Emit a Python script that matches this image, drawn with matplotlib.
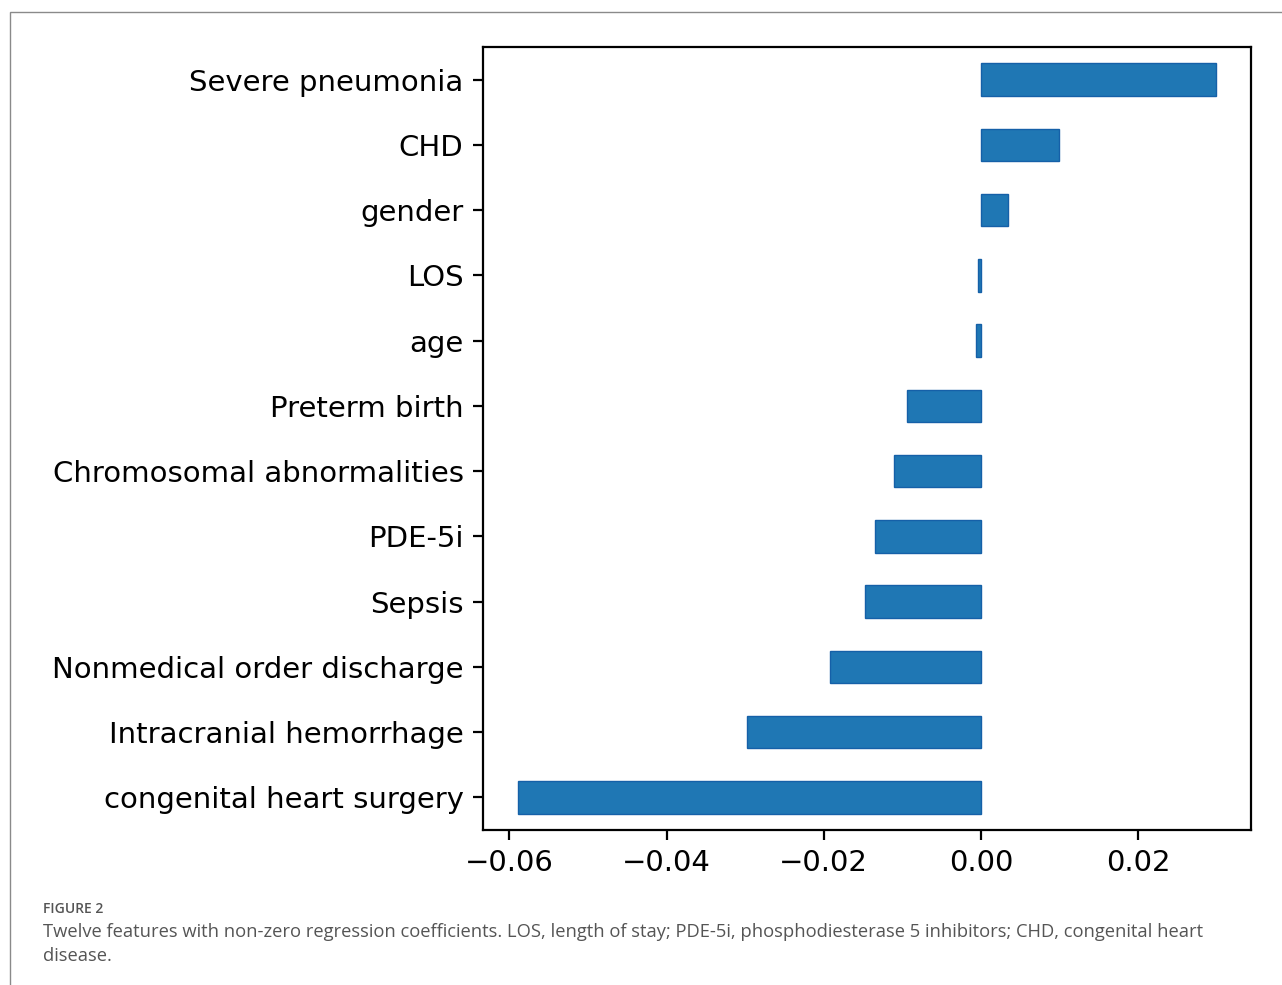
import matplotlib
matplotlib.use("Agg")
import matplotlib.pyplot as plt
from matplotlib.patches import Rectangle

# features listed bottom -> top, as pandas barh draws them
FEATURES = ["congenital heart surgery", "Intracranial hemorrhage",
            "Nonmedical order discharge", "Sepsis", "PDE-5i",
            "Chromosomal abnormalities", "Preterm birth", "age", "LOS",
            "gender", "CHD", "Severe pneumonia"]
COEFS = [-0.0589, -0.0297, -0.0192, -0.0148, -0.0135, -0.0111, -0.0094,
         -0.0007, -0.0004, 0.0034, 0.0099, 0.0299]
XTICKS = [-0.06, -0.04, -0.02, 0.00, 0.02]

CAPTION_HEAD = "FIGURE 2"
CAPTION = ("Twelve features with non-zero regression coefficients. LOS, length of stay; "
           "PDE-5i, phosphodiesterase 5 inhibitors; CHD, congenital heart\ndisease.")

W, H = 1282, 985
fig = plt.figure(figsize=(W / 100, H / 100), dpi=100)

# light panel border, cut off at right and bottom
fig.patches.append(Rectangle((10 / W, -0.1), 1.2, 1 - 12 / H + 0.1,
                             transform=fig.transFigure, fill=False,
                             edgecolor="#8a8a8a", lw=1.0))

ax = fig.add_axes([483 / W, 1 - 830 / H, (1251 - 483) / W, (830 - 47) / H])
ypos = range(len(FEATURES))
ax.barh(ypos, COEFS, height=0.5, color="#1f77b4", edgecolor="#1560a8", lw=1.0)
ax.set_ylim(-0.5, len(FEATURES) - 0.5)
ax.margins(x=0.05)
ax.set_yticks(list(ypos))
ax.set_yticklabels(FEATURES)
ax.set_xticks(XTICKS)
ax.set_xticklabels([f"{t:.2f}".replace("-", "\u2212") for t in XTICKS])
ax.tick_params(labelsize=21, length=7, width=1.6, pad=7, colors="black")
for s in ax.spines.values():
    s.set_linewidth(1.6)

fig.text(43 / W, 1 - 909 / H, CAPTION_HEAD, fontsize=10, color="#555555",
         family="Open Sans", fontweight="semibold", va="center")
fig.text(43 / W, 1 - 923 / H, CAPTION, fontsize=13.2, color="#555555",
         family="Open Sans", va="top", linespacing=1.42)

fig.savefig("out.png", dpi=100)
